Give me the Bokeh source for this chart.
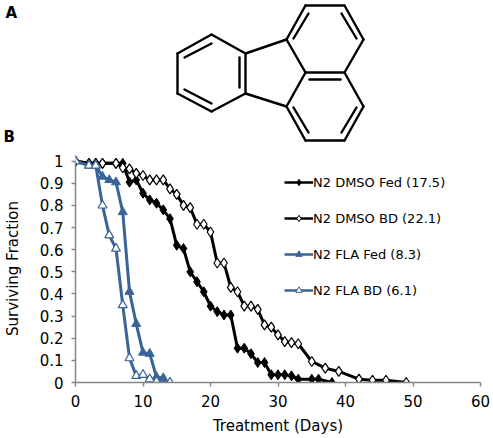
from bokeh.plotting import figure
from bokeh.layouts import column
from bokeh.models import Range1d, Legend, LegendItem, FixedTicker
from bokeh.core.properties import value
from bokeh.embed import file_html
from bokeh.resources import INLINE

FONT = "DejaVu Sans"
BLUE = "#3A6496"

fed_x = [0,2,3,4,6,7,8,9,10,11,12,13,14,15,16,17,18,19,20,21,22,23,24,25,26,27,28,29,30,31,32,33,35,36,38]
fed_y = [1,.99,.99,.99,.99,.99,.905,.915,.855,.825,.81,.78,.74,.62,.605,.5,.455,.41,.345,.32,.305,.305,.155,.155,.13,.09,.09,.035,.035,.035,.03,.015,.015,.015,0]
bd_x = [0,2,3,4,6,7,8,9,10,11,12,13,14,15,16,17,18,19,20,21,22,23,24,25,26,27,28,29,30,31,32,33,35,37,39,42,44,46,49]
bd_y = [1,.99,.99,.99,.99,.97,.965,.945,.935,.915,.915,.915,.875,.85,.8,.79,.715,.715,.68,.54,.54,.43,.41,.345,.345,.33,.26,.25,.215,.185,.18,.175,.095,.065,.05,.015,.01,.01,0]
fla_fed_x = [0,2,3,4,5,6,7,8,9,10,11,12,13]
fla_fed_y = [1,.98,.98,.93,.915,.905,.77,.41,.265,.135,.13,.025,.02]
fla_bd_x = [0,2,3,4,5,6,7,8,9,10,11,12,14]
fla_bd_y = [1,.98,.98,.8,.665,.605,.35,.11,.03,.035,.015,.005,0]
labels = ["N2 DMSO Fed (17.5)", "N2 DMSO BD (22.1)", "N2 FLA Fed (8.3)", "N2 FLA BD (6.1)"]

# Fluoranthene structure, bond list in the drawing's own units
bond_xs = [[177,211],[211,245],[245,245],[245,211],[211,177],[177,177],
           [245,286],[245,286],[286,305],[286,305],
           [286,305],[305,344],[344,363],[363,344],[344,305],
           [344,363],[363,344],[344,305],[305,286],
           [184,211],[184,211],[239,239],[308,293],[341,356],[309,340],[293,308],[356,341]]
bond_ys = [[53,34],[34,53],[53,93],[93,111],[111,93],[93,53],
           [53,39],[93,106],[39,72],[106,72],
           [39,5],[5,5],[5,39],[39,72],[72,72],
           [72,106],[106,140],[140,140],[140,106],
           [57,43],[89,103],[57,87],[13,38],[13,38],[79,79],[107,132],[107,132]]

W = 493
top = figure(width=W, height=150, x_range=Range1d(0, W), y_range=Range1d(150, 0),
             toolbar_location=None, output_backend="svg", min_border=0,
             outline_line_color=None, x_axis_type=None, y_axis_type=None)
top.grid.visible = False
top.frame_align = False
top.multi_line(bond_xs, bond_ys, line_color="black", line_width=2.4, line_cap="round")
top.text([5, 3], [12, 136], text=["A", "B"], text_font=value(FONT), text_font_style="bold",
         text_font_size="15px", text_baseline="middle", text_color="black")

p = figure(width=W, height=288, x_range=Range1d(0, 60), y_range=Range1d(0, 1.03),
           toolbar_location=None, output_backend="svg", min_border_left=75, min_border_right=13,
           min_border_top=4, min_border_bottom=56, outline_line_color=None)
p.frame_align = False
p.grid.visible = False
p.xaxis.ticker = FixedTicker(ticks=[0,10,20,30,40,50,60])
p.yaxis.ticker = FixedTicker(ticks=[0,.1,.2,.3,.4,.5,.6,.7,.8,.9,1])
p.yaxis.major_label_overrides = {0:"0",1:"1",.1:"0.1",.2:"0.2",.3:"0.3",.4:"0.4",.5:"0.5",.6:"0.6",.7:"0.7",.8:"0.8",.9:"0.9"}
for ax in (p.xaxis[0], p.yaxis[0]):
    ax.axis_line_color = "#868686"
    ax.axis_line_width = 1.5
    ax.major_tick_line_color = "#868686"
    ax.major_tick_line_width = 1.5
    ax.major_tick_in = 0
    ax.major_tick_out = 4
    ax.minor_tick_line_color = None
    ax.major_label_text_font = FONT
    ax.major_label_text_font_size = "15px"
    ax.major_label_text_color = "black"
    ax.axis_label_text_font = FONT
    ax.axis_label_text_font_size = "15px"
    ax.axis_label_text_font_style = "normal"
    ax.axis_label_text_color = "black"
p.yaxis.major_label_orientation = "horizontal"
p.xaxis.axis_label = "Treatment (Days)"
p.yaxis.axis_label = "Surviving Fraction"
p.xaxis.major_label_standoff = 8
p.yaxis.major_label_standoff = 8
p.xaxis.axis_label_standoff = 7
p.yaxis.axis_label_standoff = 15
p.yaxis.bounds = (0, 1)

kw = dict(line_width=3)
p.line(fed_x, fed_y, line_color="black", **kw)
p.scatter(fed_x, fed_y, marker="diamond", size=10, fill_color="black", line_color="black")
p.line(bd_x, bd_y, line_color="black", **kw)
p.scatter(bd_x, bd_y, marker="diamond", size=10, fill_color="white", line_color="black", line_width=1.2)
p.line(fla_fed_x, fla_fed_y, line_color=BLUE, **kw)
p.scatter(fla_fed_x, fla_fed_y, marker="triangle", size=9, fill_color=BLUE, line_color=BLUE)
p.line(fla_bd_x, fla_bd_y, line_color=BLUE, **kw)
p.scatter(fla_bd_x, fla_bd_y, marker="triangle", size=9, fill_color="white", line_color=BLUE, line_width=1.2)

# Legend keys are smaller than the plotted markers, so they get their own undrawn glyphs
NAN = float("nan")
def key(color, marker, fill, size):
    ln = p.line([NAN], [NAN], line_color=color, line_width=2.5)
    mk = p.scatter([NAN], [NAN], marker=marker, size=size, fill_color=fill, line_color=color, line_width=1)
    return [ln, mk]

leg = Legend(items=[LegendItem(label=labels[0], renderers=key("black", "diamond", "black", 8)),
                    LegendItem(label=labels[1], renderers=key("black", "diamond", "white", 8)),
                    LegendItem(label=labels[2], renderers=key(BLUE, "triangle", BLUE, 8)),
                    LegendItem(label=labels[3], renderers=key(BLUE, "triangle", "white", 8))],
             location=(209, 83), background_fill_alpha=0, border_line_color=None,
             glyph_width=29, glyph_height=16, spacing=18, padding=0, margin=0,
             label_standoff=0, label_text_font=FONT, label_text_font_size="13px",
             label_text_color="black", label_height=18)
p.add_layout(leg, "center")

page = column(top, p, spacing=0)
open("out.html", "w").write(file_html(page, INLINE))
